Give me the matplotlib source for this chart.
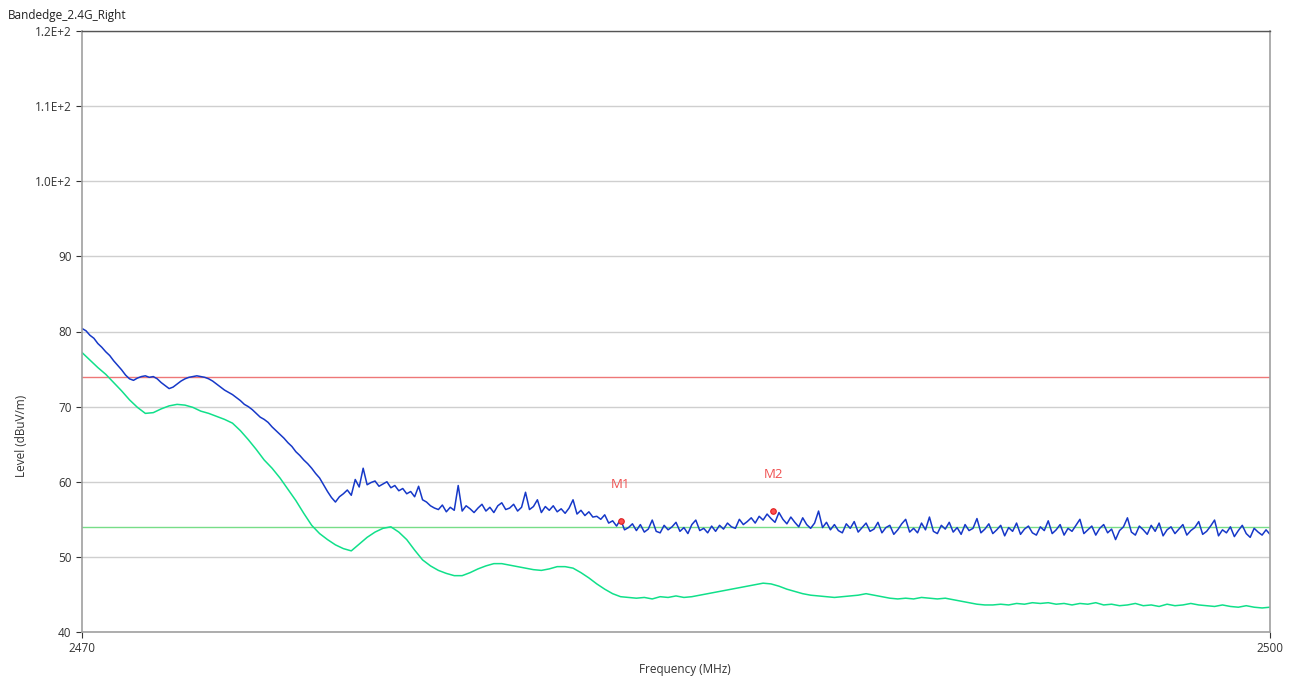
import numpy as np
import matplotlib
matplotlib.use("Agg")
import matplotlib.pyplot as plt

# frequency grids (MHz)
freq_pk = np.round(np.arange(2470.0, 2500.0001, 0.1), 1)
freq_av = np.round(np.arange(2470.0, 2500.0001, 0.2), 1)

# peak trace (dBuV/m), one value per 0.1 MHz
level_pk = [
    80.4, 80.1, 79.5, 79.1, 78.4, 77.9, 77.3, 76.8, 76.1, 75.5,
    74.9, 74.2, 73.7, 73.5, 73.8, 74.0, 74.1, 73.9, 74.0, 73.7,
    73.2, 72.8, 72.4, 72.6, 73.0, 73.4, 73.7, 73.9, 74.0, 74.1,
    74.0, 73.9, 73.7, 73.4, 73.0, 72.6, 72.2, 71.9, 71.6, 71.2,
    70.8, 70.3, 70.0, 69.6, 69.1, 68.6, 68.3, 67.9, 67.3, 66.8,
    66.3, 65.8, 65.2, 64.7, 64.0, 63.5, 62.9, 62.4, 61.8, 61.1,
    60.5, 59.6, 58.7, 57.9, 57.3, 58.0, 58.4, 58.9, 58.2, 60.3,
    59.3, 61.8, 59.6, 59.9, 60.1, 59.4, 59.7, 60.0, 59.2, 59.5,
    58.8, 59.1, 58.4, 58.7, 58.0, 59.4, 57.6, 57.3, 56.8, 56.5,
    56.3, 56.9, 56.0, 56.6, 56.2, 59.5, 56.1, 56.8, 56.4, 55.9,
    56.5, 57.0, 56.1, 56.6, 55.9, 56.8, 57.2, 56.3, 56.5, 57.0,
    56.1, 56.6, 58.6, 56.3, 56.7, 57.6, 55.9, 56.7, 56.2, 56.8,
    56.0, 56.4, 55.8, 56.5, 57.6, 55.7, 56.2, 55.5, 56.0, 55.3,
    55.4, 55.0, 55.6, 54.5, 54.8, 54.1, 55.0, 53.6, 53.9, 54.4,
    53.5, 54.3, 53.3, 53.7, 54.9, 53.4, 53.2, 54.2, 53.6, 54.0,
    54.6, 53.4, 53.9, 53.1, 54.3, 54.9, 53.5, 53.8, 53.2, 54.1,
    53.4, 54.2, 53.7, 54.5, 54.0, 53.8, 55.0, 54.3, 54.7, 55.2,
    54.5, 55.4, 54.9, 55.7, 55.1, 54.6, 55.9, 55.0, 54.4, 55.3,
    54.6, 54.0, 55.2, 54.3, 53.8, 54.5, 56.1, 53.9, 54.6, 53.6,
    54.3, 53.5, 53.2, 54.4, 53.8, 54.7, 53.3, 53.9, 54.5, 53.4,
    53.7, 54.6, 53.2, 53.9, 54.2, 53.0, 53.6, 54.4, 55.0, 53.3,
    53.8, 53.2, 54.5, 53.6, 55.3, 53.4, 53.1, 54.2, 53.7, 54.6,
    53.3, 53.9, 53.0, 54.3, 53.5, 53.8, 55.1, 53.2, 53.7, 54.4,
    53.1, 53.6, 54.2, 52.8, 53.9, 53.4, 54.5, 53.0, 53.7, 54.1,
    53.2, 52.9, 54.0, 53.5, 54.8, 53.1, 53.6, 54.3, 52.9, 53.8,
    53.4, 54.2, 55.0, 53.1, 53.6, 54.1, 52.9, 53.8, 54.3, 53.2,
    53.7, 52.3, 53.5, 54.0, 55.2, 53.3, 52.9, 54.1, 53.6, 53.0,
    54.2, 53.4, 54.5, 52.8, 53.6, 54.0, 53.1, 53.7, 54.3, 52.9,
    53.5, 53.9, 54.7, 53.0, 53.4, 54.1, 54.9, 52.8, 53.6, 53.2,
    54.0, 52.7, 53.5, 54.2, 53.1, 52.6, 53.8, 53.3, 52.9, 53.6,
    53.0,
]

# average trace (dBuV/m), one value per 0.2 MHz
level_av = [
    77.2, 76.2, 75.2, 74.3, 73.2, 72.1, 70.9, 69.9, 69.1, 69.2,
    69.7, 70.1, 70.3, 70.2, 69.9, 69.4, 69.1, 68.7, 68.3, 67.8,
    66.8, 65.6, 64.3, 62.9, 61.8, 60.5, 59.0, 57.5, 55.8, 54.2,
    53.1, 52.3, 51.6, 51.1, 50.8, 51.7, 52.6, 53.3, 53.8, 54.0,
    53.3, 52.3, 50.9, 49.6, 48.8, 48.2, 47.8, 47.5, 47.5, 47.9,
    48.4, 48.8, 49.1, 49.1, 48.9, 48.7, 48.5, 48.3, 48.2, 48.4,
    48.7, 48.7, 48.5, 47.9, 47.2, 46.4, 45.7, 45.1, 44.7, 44.6,
    44.5, 44.6, 44.4, 44.7, 44.6, 44.8, 44.6, 44.7, 44.9, 45.1,
    45.3, 45.5, 45.7, 45.9, 46.1, 46.3, 46.5, 46.4, 46.1, 45.7,
    45.4, 45.1, 44.9, 44.8, 44.7, 44.6, 44.7, 44.8, 44.9, 45.1,
    44.9, 44.7, 44.5, 44.4, 44.5, 44.4, 44.6, 44.5, 44.4, 44.5,
    44.3, 44.1, 43.9, 43.7, 43.6, 43.6, 43.7, 43.6, 43.8, 43.7,
    43.9, 43.8, 43.9, 43.7, 43.8, 43.6, 43.8, 43.7, 43.9, 43.6,
    43.7, 43.5, 43.6, 43.8, 43.5, 43.6, 43.4, 43.7, 43.5, 43.6,
    43.8, 43.6, 43.5, 43.4, 43.6, 43.4, 43.3, 43.5, 43.3, 43.2,
    43.3,
]

limit_pk = 74
limit_av = 54

marker_names = ["M1", "M2"]
marker_freq = [2483.6, 2487.45]
marker_level = [54.8, 56.1]

yticks = [40, 50, 60, 70, 80, 90, 100, 110, 120]
ytick_labels = ["40", "50", "60", "70", "80", "90", "1.0E+2", "1.1E+2", "1.2E+2"]

plt.rcParams['font.family'] = ['Open Sans', 'DejaVu Sans']

fig = plt.figure(figsize=(12.98, 6.82), dpi=100)
ax = fig.add_axes([82 / 1298, 1 - 632 / 682, (1270 - 82) / 1298, (632 - 31) / 682])

ax.set_xlim(2470, 2500)
ax.set_ylim(40, 120)
ax.set_yticks(yticks)
ax.set_yticklabels(ytick_labels)
ax.set_xticks([2470, 2500])
ax.set_xticklabels(["2470", "2500"])
ax.tick_params(axis='both', labelsize=8.5, colors='#333333', length=4, width=0.8)
ax.tick_params(axis='x', pad=3)
ax.grid(axis='y', color='#cfcfcf', linewidth=1)
ax.set_axisbelow(True)
for side in ['left', 'bottom', 'right']:
    ax.spines[side].set_color('#a0a0a0')
    ax.spines[side].set_linewidth(1.2)
ax.spines['top'].set_color('#555555')
ax.spines['top'].set_linewidth(1.0)

ax.axhline(limit_pk, color='#ee7777', linewidth=1.0)
ax.axhline(limit_av, color='#77dd88', linewidth=1.0)

ax.plot(freq_av, level_av, color='#10e08a', linewidth=1.1)
ax.plot(freq_pk, level_pk, color='#1638c8', linewidth=1.1)

for name, f, lv in zip(marker_names, marker_freq, marker_level):
    ax.plot([f], [lv], 'o', markersize=4, markerfacecolor='#ff5050',
            markeredgecolor='#e02020', markeredgewidth=0.8)
    ax.text(f, lv + 4.9, name, color='#f05050', fontsize=9.5,
            ha='center', va='center')

fig.text(8 / 1298, 1 - 15 / 682, "Bandedge_2.4G_Right", fontsize=8.5,
         color='#222222', ha='left', va='center')
fig.text(22 / 1298, 1 - 436 / 682, "Level (dBuV/m)", fontsize=8.5,
         color='#333333', rotation=90, ha='center', va='center')
fig.text(685 / 1298, 1 - 670 / 682, "Frequency (MHz)", fontsize=8.5,
         color='#333333', ha='center', va='center')

fig.savefig("out.png", dpi=100)
